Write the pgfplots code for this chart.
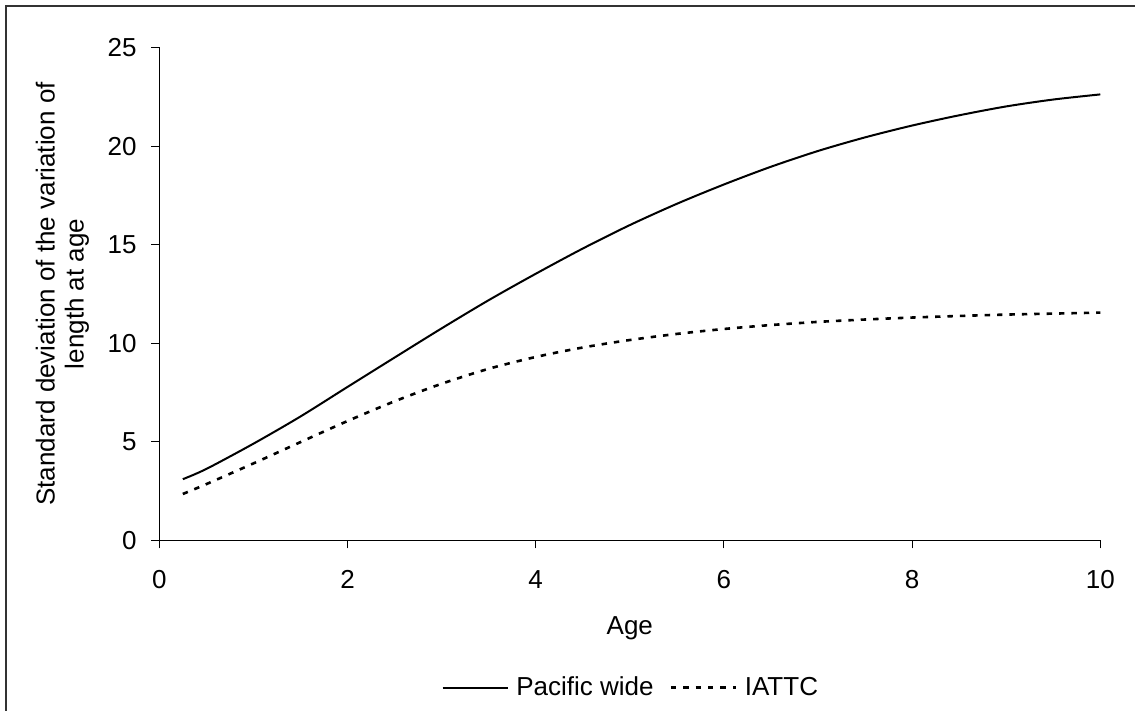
\documentclass[border=0pt]{standalone}
\usepackage{fontspec}
\setmainfont{Liberation Sans}
\usepackage{pgfplots}
\pgfplotsset{compat=1.18}
\begin{document}
\begin{tikzpicture}
\useasboundingbox (-79.65pt,-85.35pt) rectangle (487.85pt,270.15pt);
\draw[line width=0.65pt, black!80] (-76.65pt,-200pt) rectangle (600pt,267.15pt);
\begin{axis}[
  at={(0pt,0pt)}, anchor=south west,
  width=470.5pt, height=246.4pt, scale only axis,
  xmin=0, xmax=10, ymin=0, ymax=25,
  axis lines=left,
  axis line style={-, line width=0.5pt, black},
  xtick={0,2,4,6,8,10}, ytick={0,5,10,15,20,25},
  tick align=outside, major tick length=4pt,
  tick style={black, line width=0.5pt},
  font=\fontsize{13pt}{15.5pt}\selectfont,
  /pgf/number format/assume math mode=true,
  xticklabel style={anchor=north, inner sep=0pt, yshift=-10.85pt},
  yticklabel style={anchor=east, inner sep=0pt, xshift=-7.15pt},
  xlabel={Age},
  xlabel style={at={(axis description cs:0.5,-0.1536)}, anchor=north, inner sep=0pt},
  ylabel={Standard deviation of the variation of\\[-1pt]length at age},
  ylabel style={at={(axis description cs:-0.07418,0.5)}, anchor=south, inner sep=0pt, align=center,
    font=\fontsize{13pt}{15.5pt}\selectfont},
  legend columns=2,
  legend style={draw=none, fill=none, at={(axis description cs:0.5,-0.2987)}, anchor=center, inner sep=0pt,
    nodes={inner sep=0pt},
    /tikz/every odd column/.append style={column sep=3.85pt},
    /tikz/every even column/.append style={column sep=8pt}},
  legend image code/.code={\draw[#1] (0pt,0pt) -- (32.5pt,0pt);},
  clip=false,
]
\addplot[black, line width=1pt, smooth] coordinates {
(0.25,3.1) (0.5,3.62) (1,4.9) (1.5,6.28) (2,7.78) (2.5,9.27) (3,10.75) (3.5,12.18)
(4,13.52) (4.5,14.8) (5,15.99) (5.5,17.07) (6,18.05) (6.5,18.95) (7,19.75) (7.5,20.44)
(8,21.04) (8.5,21.56) (9,22.01) (9.5,22.36) (10,22.62)
};
\addlegendentry{Pacific wide}
\addplot[black, line width=1.3pt, smooth, dash pattern=on 2.7pt off 3.5pt] coordinates {
(0.25,2.35) (0.5,2.85) (1,3.9) (1.5,4.98) (2,6.05) (2.5,7.05) (3,7.94) (3.5,8.7)
(4,9.3) (4.5,9.78) (5,10.16) (5.5,10.47) (6,10.72) (6.5,10.92) (7,11.08) (7.5,11.2)
(8,11.3) (8.5,11.38) (9,11.45) (9.5,11.5) (10,11.55)
};
\addlegendentry{IATTC}
\end{axis}
\end{tikzpicture}
\end{document}
